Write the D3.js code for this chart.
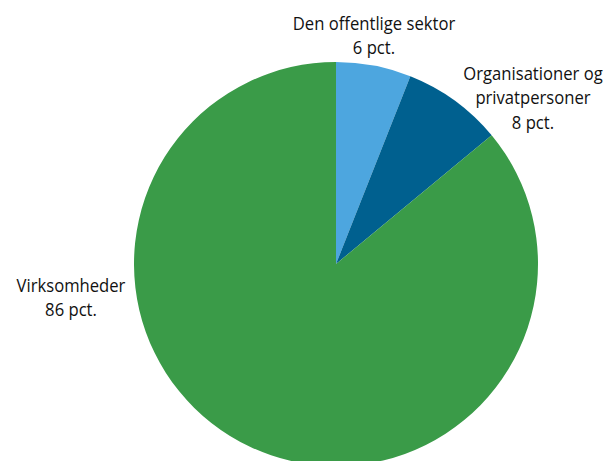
<!DOCTYPE html>
<html>
<head>
<meta charset="utf-8">
<script src="https://cdn.jsdelivr.net/npm/d3@7/dist/d3.min.js"></script>
<style>
  body { margin: 0; background: #fff; }
  text { font-family: "Open Sans", sans-serif; font-size: 18.5px; fill: #111; }
</style>
</head>
<body>
<svg width="607" height="461"></svg>
<script>
var categories = ["Den offentlige sektor", "Organisationer og privatpersoner", "Virksomheder"];
var values = [6, 8, 86];
var labelLines = [
  ["Den offentlige sektor", "6 pct."],
  ["Organisationer og", "privatpersoner", "8 pct."],
  ["Virksomheder", "86 pct."]
];
var colors = ["#4da6df", "#00608f", "#3a9b48"];

var svg = d3.select("svg");
var cx = 336, cy = 264, r = 202;

var pie = d3.pie().sort(null).value(d => d);
var arc = d3.arc().innerRadius(0).outerRadius(r);

var g = svg.append("g").attr("transform", `translate(${cx},${cy})`);

g.selectAll("path")
  .data(pie(values))
  .enter()
  .append("path")
  .attr("d", arc)
  .attr("fill", (d, i) => colors[i]);

// label anchors (centre x, first baseline y); font is squeezed to look condensed
var labelPos = [[374, 30], [533, 80], [71, 292]];
var lineH = 24.5;
var squeeze = 0.9;

labelLines.forEach(function(lines, i) {
  var t = svg.append("g")
    .attr("transform", `translate(${labelPos[i][0]},${labelPos[i][1]}) scale(${squeeze},1)`)
    .append("text")
    .attr("text-anchor", "middle");
  lines.forEach(function(l, j) {
    t.append("tspan")
      .attr("x", 0)
      .attr("dy", j == 0 ? 0 : lineH)
      .text(l);
  });
});
</script>
</body>
</html>
